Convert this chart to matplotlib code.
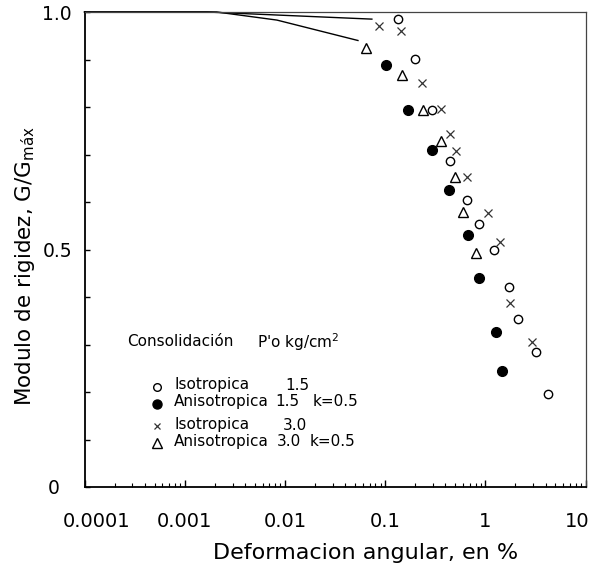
import matplotlib
matplotlib.use("Agg")
import matplotlib.pyplot as plt
import numpy as np
from matplotlib.lines import Line2D
from matplotlib.transforms import ScaledTranslation

plt.rcParams['font.family'] = ['DejaVu Sans']
plt.rcParams['mathtext.default'] = 'regular'

# ---------------- data (shear strain %, G/Gmax) ----------------
iso15_x = [0.134, 0.200, 0.293, 0.440, 0.655, 0.875, 1.235, 1.71, 2.11, 3.17, 4.27]
iso15_y = [0.985, 0.901, 0.794, 0.686, 0.604, 0.554, 0.499, 0.422, 0.353, 0.284, 0.195]

aniso15_x = [0.102, 0.171, 0.293, 0.436, 0.667, 0.869, 1.276, 1.475]
aniso15_y = [0.888, 0.794, 0.709, 0.625, 0.531, 0.441, 0.327, 0.244]

iso30_x = [0.0879, 0.144, 0.233, 0.360, 0.447, 0.509, 0.655, 1.076, 1.418, 1.77, 2.92]
iso30_y = [0.971, 0.960, 0.850, 0.796, 0.743, 0.708, 0.652, 0.577, 0.515, 0.387, 0.306]

aniso30_x = [0.0643, 0.149, 0.238, 0.360, 0.501, 0.605, 0.811]
aniso30_y = [0.924, 0.867, 0.794, 0.729, 0.653, 0.579, 0.492]

# small-strain curves
curve_iso30_x = [0.0001, 0.00167, 0.0738]
curve_iso30_y = [1.0, 1.0, 0.985]
curve_aniso30_x = [0.0001, 0.00209, 0.00832, 0.0536]
curve_aniso30_y = [1.0, 1.0, 0.983, 0.940]

xticks = [0.0001, 0.001, 0.01, 0.1, 1, 10]
xtick_labels = ['0.0001', '0.001', '0.01', '0.1', '1', '10']
yticks = [0.0, 0.1, 0.2, 0.3, 0.4, 0.5, 0.6, 0.7, 0.8, 0.9, 1.0]
ytick_labels = ['0', '', '', '', '', '0.5', '', '', '', '', '1.0']

W, H = 594, 569
fig = plt.figure(figsize=(W / 100, H / 100), dpi=100)
L, R, T, B = 84.5, 585.5, 12, 487
ax = fig.add_axes([L / W, 1 - B / H, (R - L) / W, (B - T) / H])

ax.set_xscale('log')
ax.set_xlim(1e-4, 10)
ax.set_ylim(0, 1.0)

ax.plot(curve_iso30_x, curve_iso30_y, color='black', lw=1.0, clip_on=False)
ax.plot(curve_aniso30_x, curve_aniso30_y, color='black', lw=1.0, clip_on=False)

ax.plot(iso15_x, iso15_y, 'o', ms=6, mfc='white', mec='black', mew=1.0, ls='none')
ax.plot(aniso15_x, aniso15_y, 'o', ms=7, mfc='black', mec='black', mew=1.0, ls='none')
ax.plot(iso30_x, iso30_y, 'x', ms=5.5, mec='#333333', mew=0.9, ls='none')
ax.plot(aniso30_x, aniso30_y, '^', ms=7.5, mfc='white', mec='black', mew=1.0, ls='none')

# ticks
ax.set_xticks(xticks)
ax.set_xticklabels(xtick_labels)
ax.xaxis.set_minor_locator(matplotlib.ticker.LogLocator(base=10, subs=np.arange(2, 10)))
ax.xaxis.set_minor_formatter(matplotlib.ticker.NullFormatter())
ax.set_yticks(yticks)
ax.set_yticklabels(ytick_labels)

ax.tick_params(axis='x', which='major', direction='in', length=5, width=1.0, pad=18, labelsize=14)
ax.tick_params(axis='x', which='minor', direction='in', length=3, width=0.8)
ax.tick_params(axis='y', which='major', direction='in', length=3.5, width=1.0, pad=9, labelsize=13.5)

yl = ax.get_yticklabels()
yl[0].set_transform(yl[0].get_transform() + ScaledTranslation(-0.12, 0, fig.dpi_scale_trans))

xl = ax.get_xticklabels()
xl[0].set_transform(xl[0].get_transform() + ScaledTranslation(0.12, 0, fig.dpi_scale_trans))
xl[-1].set_transform(xl[-1].get_transform() + ScaledTranslation(-0.08, 0, fig.dpi_scale_trans))

for s in ['left', 'bottom']:
    ax.spines[s].set_linewidth(1.3)
    ax.spines[s].set_color('black')
for s in ['top', 'right']:
    ax.spines[s].set_linewidth(0.9)
    ax.spines[s].set_color('#444444')

ax.set_xlabel('Deformacion angular, en %', fontsize=16)
ax.xaxis.label.set_va('center')
ax.xaxis.set_label_coords((365.5 - L) / (R - L), (B - 553) / (B - T))
ax.set_ylabel('Modulo de rigidez, G/G$_{máx}$', fontsize=15.5)
ax.yaxis.label.set_va('center')
ax.yaxis.label.set_ha('center')
ax.yaxis.set_label_coords((25 - L) / (R - L), (B - 266.5) / (B - T))

# ---------------- legend (manual) ----------------
def fx(px):
    return px / W

def fy(py):
    return 1 - py / H

fs_leg = 11
fig.text(fx(126.7), fy(341.7), 'Consolidación', fontsize=fs_leg, va='center', ha='left')
fig.text(fx(256.7), fy(341.7), "P'o kg/cm$^{2}$", fontsize=fs_leg, va='center', ha='left')

rows = [
    (385, 387.3, dict(marker='o', ms=5.5, mfc='white', mec='black', mew=1.0), 'Isotropica', '1.5', 285, None),
    (401.7, 404.3, dict(marker='o', ms=6.5, mfc='black', mec='black', mew=1.0), 'Anisotropica', '1.5', 275, 313),
    (425, 426, dict(marker='x', ms=5, mec='#333333', mew=0.9), 'Isotropica', '3.0', 283.3, None),
    (441.7, 443.3, dict(marker='^', ms=7, mfc='white', mec='black', mew=1.0), 'Anisotropica', '3.0', 276.7, 310),
]
for ty, my, mk, name, val, vx, kx in rows:
    fig.add_artist(Line2D([fx(156.7)], [fy(my)], transform=fig.transFigure, ls='none', **mk))
    fig.text(fx(174), fy(ty), name, fontsize=fs_leg, va='center', ha='left')
    fig.text(fx(vx), fy(ty), val, fontsize=fs_leg, va='center', ha='left')
    if kx is not None:
        fig.text(fx(kx), fy(ty), 'k=0.5', fontsize=fs_leg, va='center', ha='left')

fig.savefig('out.png', dpi=100)
